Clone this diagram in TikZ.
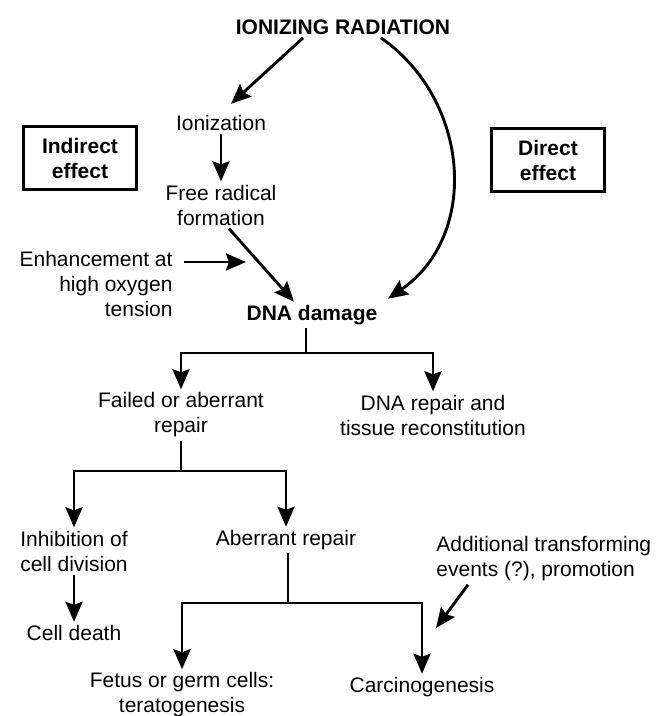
\documentclass[tikz,border=0pt]{standalone}
\usepackage{fontspec}
\setmainfont{Liberation Sans}
\usetikzlibrary{arrows.meta}

\begin{document}
\begin{tikzpicture}
	[
	x=1pt, y=-1pt, line width=2.9pt, >={Stealth[length=20pt,width=17pt,inset=3pt]},
	%Voreinstellungen
	txt/.style={align=center, inner sep=2pt, font=\fontsize{21}{25}\selectfont},
	fett/.style={txt, font=\fontsize{21}{25}\selectfont\bfseries},
	kasten/.style={fett, draw, line width=3pt, minimum width=113pt, minimum height=63pt},
	pfeil/.style={->, line width=2.9pt}
	]
	
	%Rahmen
	\useasboundingbox (0,0) rectangle (660,716);
	
	%Knoten oben
	\node[fett] (rad) at (343,27) {IONIZING RADIATION};
	\node[txt] (ion) at (221,123) {Ionization};
	\node[kasten] (indirect) at (80,158) {Indirect\\effect};
	\node[kasten] (direct) at (548,160) {Direct\\effect};
	\node[txt] (frf) at (221,205) {Free radical\\formation};
	\node[txt, align=right, anchor=east] (enh) at (176,284) {Enhancement at\\high oxygen\\tension};
	\node[fett] (dna) at (312,315) {DNA damage};
	
	%Knoten unten
	\node[txt] (failed) at (181,415) {Failed or aberrant\\repair};
	\node[txt] (recon) at (433,415) {DNA repair and\\tissue reconstitution};
	\node[txt] (inhib) at (74,551) {Inhibition of\\cell division};
	\node[txt] (aber) at (286,540) {Aberrant repair};
	\node[txt] (death) at (74,633) {Cell death};
	\node[txt, align=left, anchor=west] (add) at (433,559) {Additional transforming\\events (?), promotion};
	\node[txt] (fetus) at (182,695) {Fetus or germ cells:\\teratogenesis};
	\node[txt] (carc) at (422,687) {Carcinogenesis};
	
	%indirekter Weg
	\draw[pfeil] ([xshift=-40pt]rad.south) -- ([shift={(10,-8)}]ion.north);
	\draw[pfeil] (ion.south) -- (frf.north);
	\draw[pfeil] ([xshift=8pt]frf.south) -- ([xshift=-18pt]dna.north);
	\coordinate (enhtip) at (246,262);
	\draw[pfeil] ([shift={(8,-22)}]enh.east) -- (enhtip);
	
	%direkter Weg
	\draw[pfeil] ([xshift=38pt]rad.south) .. controls (470,100) and (480,235) .. ([shift={(76,-3)}]dna.north);
	
	%Verzweigung 1
	\coordinate (gabel1) at (306,353);
	\draw (gabel1 |- dna.south) -- (gabel1);
	\draw[pfeil] (gabel1) -| (failed.north);
	\draw[pfeil] (gabel1) -| (recon.north);
	
	%Verzweigung 2
	\coordinate (gabel2) at (181,471);
	\draw (gabel2 |- failed.south) -- (gabel2);
	\draw[pfeil] (gabel2) -| (inhib.north);
	\draw[pfeil] (gabel2) -| (aber.north);
	\draw[pfeil] (inhib.south) -- (death.north);
	
	%Verzweigung 3
	\coordinate (gabel3) at (288,603);
	\draw (gabel3 |- aber.south) -- (gabel3);
	\draw[pfeil] (gabel3) -| (fetus.north);
	\draw[pfeil] (gabel3) -| (carc.north);
	\coordinate (addtip) at (436,628);
	\draw[pfeil] ([xshift=35pt]add.south west) -- (addtip);
\end{tikzpicture}
\end{document}
